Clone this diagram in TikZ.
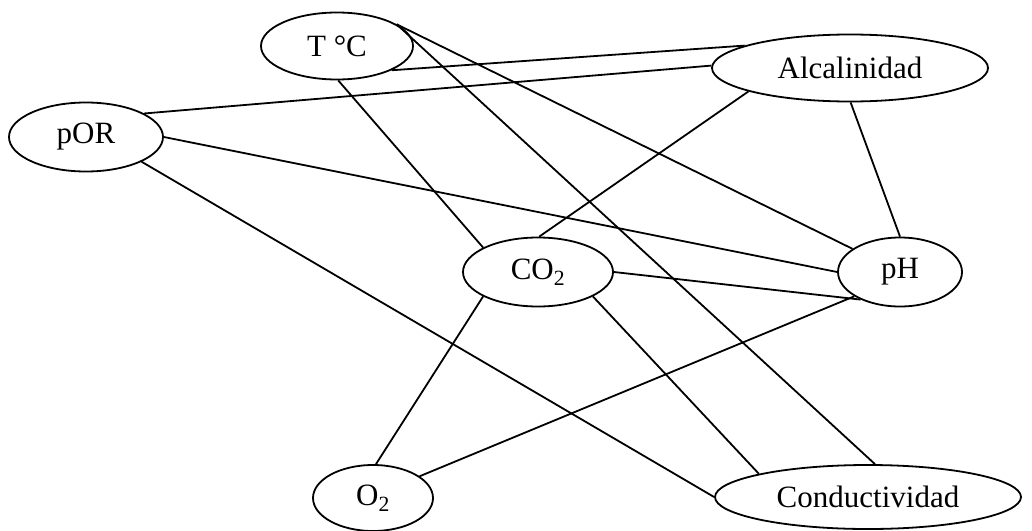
\documentclass[tikz,border=0pt]{standalone}
\usepackage{fontspec}
\setmainfont{Liberation Serif}
\usetikzlibrary{shapes.geometric}
\tikzset{
  ell/.style={draw, ellipse, inner sep=0pt, line width=1.8pt,
    font=\fontsize{31}{33}\selectfont},
  link/.style={line width=1.8pt}
}
\begin{document}
\begin{tikzpicture}[x=1pt,y=-1pt]
\useasboundingbox[fill=white] (0,0) rectangle (1032,530);
\node[ell, minimum width=152, minimum height=67] (tc)   at (337,46)  {T °C};
\node[ell, minimum width=276, minimum height=67] (alc)  at (850,68)  {Alcalinidad};
\node[ell, minimum width=154, minimum height=69] (por)  at (86,137)  {pOR};
\node[ell, minimum width=150, minimum height=69] (co2)  at (538,272) {CO\textsubscript{2}};
\node[ell, minimum width=124, minimum height=69] (ph)   at (900,272) {pH};
\node[ell, minimum width=120, minimum height=66] (o2)   at (373,498) {O\textsubscript{2}};
\node[ell, minimum width=306, minimum height=64] (cond) at (868,497) {Conductividad};
\draw[link] (tc.-24)  -- (alc.168);
\draw[link] (por.22)  -- (alc.179);
\draw[link] (tc.-88)  -- (co2.156);
\draw[link] (tc.20)   -- (ph.154);
\draw[link] (tc.20)   -- (cond.78);
\draw[link] (alc.193) -- (co2.88);
\draw[link] (alc.-89) -- (ph.90);
\draw[link] (por.0)   -- (ph.180);
\draw[link] (por.-24) -- (cond.180);
\draw[link] (co2.0)   -- (ph.215);
\draw[link] (co2.204) -- (o2.85);
\draw[link] (co2.-24) -- (cond.168);
\draw[link] (ph.208)  -- (o2.25);
\end{tikzpicture}
\end{document}
